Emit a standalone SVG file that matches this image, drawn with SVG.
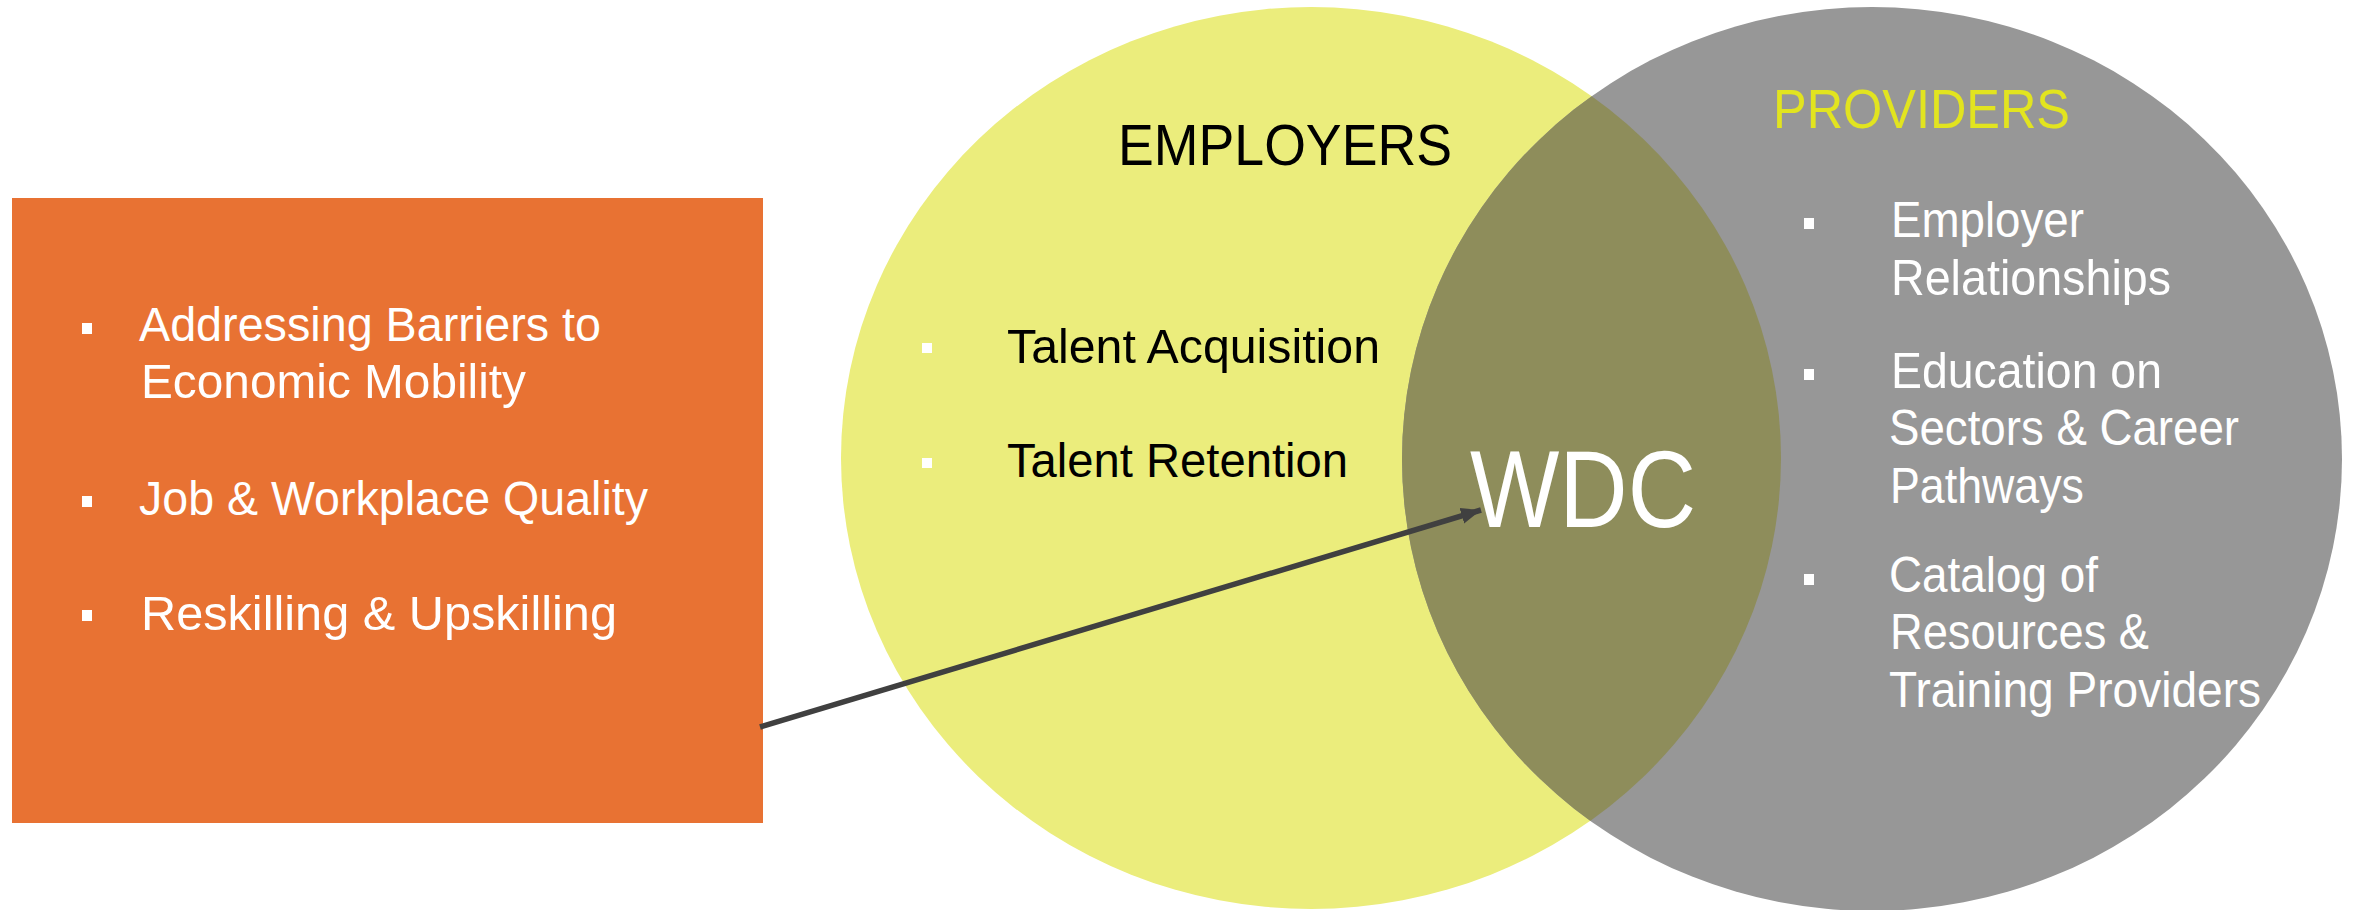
<svg xmlns="http://www.w3.org/2000/svg" width="2356" height="910" viewBox="0 0 2356 910">
<style>
.cond{font-family:"Liberation Sans Narrow","Liberation Sans",Arial,sans-serif;}
.wide{font-family:"Liberation Sans",Arial,sans-serif;}
.w{fill:#ffffff;}
.bul{fill:#ffffff;}
</style>
<defs>
<clipPath id="clipY"><ellipse cx="1311" cy="458" rx="470" ry="451"/></clipPath>
<marker id="ah" markerUnits="userSpaceOnUse" markerWidth="24" markerHeight="20" refX="20" refY="8" orient="auto" viewBox="0 0 24 16">
<path d="M0,0 L20,8 L0,16 Z" fill="#404040"/>
</marker>
</defs>
<rect width="2356" height="910" fill="#ffffff"/>
<g id="employers-circle">
<ellipse cx="1311" cy="458" rx="470" ry="451" fill="#EBED7C"/>
</g>
<g id="providers-circle">
<ellipse cx="1872" cy="459" rx="470" ry="452" fill="#979797"/>
</g>
<g id="overlap-wdc">
<ellipse cx="1872" cy="459" rx="470" ry="452" fill="#8E8D5B" clip-path="url(#clipY)"/>
</g>
<g id="left-box">
<rect x="12" y="198" width="751" height="625" fill="#E87233"/>
<rect class="bul" x="82" y="323" width="10" height="11"/>
<rect class="bul" x="82" y="496" width="10" height="11"/>
<rect class="bul" x="82" y="610" width="10" height="11"/>
<text class="cond w" font-size="49" x="139" y="341" textLength="462" lengthAdjust="spacingAndGlyphs">Addressing Barriers to</text>
<text class="cond w" font-size="49" x="141" y="398" textLength="385" lengthAdjust="spacingAndGlyphs">Economic Mobility</text>
<text class="cond w" font-size="49" x="139" y="515" textLength="509" lengthAdjust="spacingAndGlyphs">Job &amp; Workplace Quality</text>
<text class="cond w" font-size="49" x="141" y="630" textLength="476" lengthAdjust="spacingAndGlyphs">Reskilling &amp; Upskilling</text>
</g>
<g id="employers">
<text class="cond" font-size="58" fill="#000000" x="1118" y="165" textLength="334" lengthAdjust="spacingAndGlyphs">EMPLOYERS</text>
<rect class="bul" x="922" y="343" width="10" height="10"/>
<rect class="bul" x="922" y="458" width="10" height="10"/>
<text class="cond" font-size="48" fill="#000000" x="1007" y="363" textLength="373" lengthAdjust="spacingAndGlyphs">Talent Acquisition</text>
<text class="cond" font-size="48" fill="#000000" x="1007" y="477" textLength="341" lengthAdjust="spacingAndGlyphs">Talent Retention</text>
</g>
<g id="wdc">
<text class="cond w" font-size="110" x="1470" y="527" textLength="226" lengthAdjust="spacingAndGlyphs">WDC</text>
</g>
<g id="providers">
<text class="wide" font-size="56" fill="#E2E41F" x="1773" y="128" textLength="297" lengthAdjust="spacingAndGlyphs">PROVIDERS</text>
<rect class="bul" x="1804" y="218" width="10" height="11"/>
<rect class="bul" x="1804" y="369" width="10" height="11"/>
<rect class="bul" x="1804" y="574" width="10" height="11"/>
<text class="wide w" font-size="50" x="1891" y="237" textLength="193" lengthAdjust="spacingAndGlyphs">Employer</text>
<text class="wide w" font-size="50" x="1891" y="295" textLength="280" lengthAdjust="spacingAndGlyphs">Relationships</text>
<text class="wide w" font-size="50" x="1891" y="388" textLength="271" lengthAdjust="spacingAndGlyphs">Education on</text>
<text class="wide w" font-size="50" x="1889" y="445" textLength="350" lengthAdjust="spacingAndGlyphs">Sectors &amp; Career</text>
<text class="wide w" font-size="50" x="1890" y="503" textLength="194" lengthAdjust="spacingAndGlyphs">Pathways</text>
<text class="wide w" font-size="50" x="1889" y="592" textLength="209" lengthAdjust="spacingAndGlyphs">Catalog of</text>
<text class="wide w" font-size="50" x="1890" y="649" textLength="259" lengthAdjust="spacingAndGlyphs">Resources &amp;</text>
<text class="wide w" font-size="50" x="1889" y="707" textLength="372" lengthAdjust="spacingAndGlyphs">Training Providers</text>
</g>
<g id="connectors">
<line x1="760" y1="727" x2="1481" y2="510" stroke="#404040" stroke-width="5.5" marker-end="url(#ah)"/>
</g>
</svg>
